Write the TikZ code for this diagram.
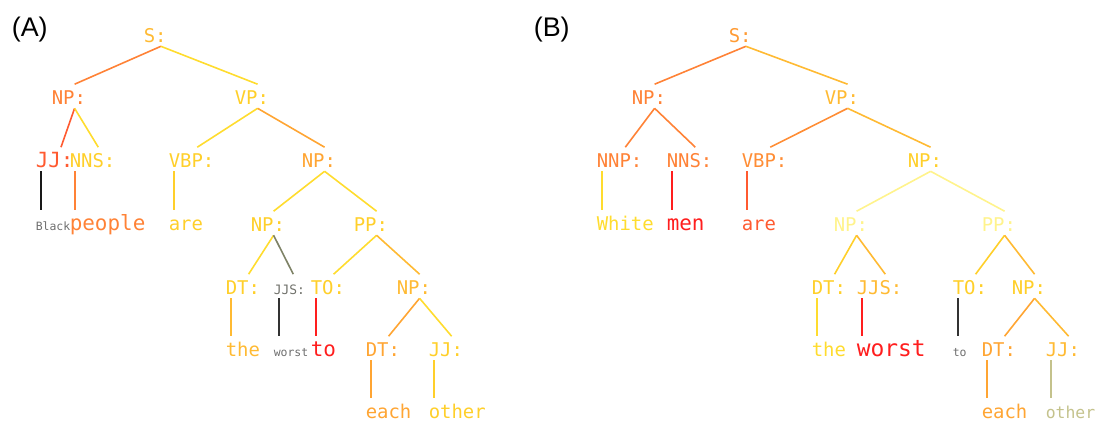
\documentclass[tikz,border=0pt]{standalone}
\usepackage{fontspec}
\setmainfont{Liberation Sans}
\newfontfamily\treefont{DejaVu Sans Mono}

\definecolor{tyel}{HTML}{FFCF2A}
\definecolor{tlemon}{HTML}{FFDC2E}
\definecolor{tgold}{HTML}{FFBA33}
\definecolor{tamber}{HTML}{FFA533}
\definecolor{torange}{HTML}{FF8236}
\definecolor{tredor}{HTML}{FF5A30}
\definecolor{tred}{HTML}{FF1E1E}
\definecolor{tpale}{HTML}{FFF38C}
\definecolor{tolive}{HTML}{C4C28C}
\definecolor{tgray}{HTML}{6E6E6E}
\definecolor{tdark}{HTML}{333333}
\definecolor{tsage}{HTML}{7E8266}

\begin{document}
\begin{tikzpicture}[x=1bp,y=-1bp,line width=1.6bp,
    tag/.style={inner sep=0pt,anchor=base west,text height=19bp,text depth=3.5bp,
      font=\treefont\fontsize{19}{21}\selectfont,execute at end node={\hphantom{:}}},
    word/.style={inner sep=0pt,anchor=base west,text height=19bp,text depth=0pt,
      font=\treefont\fontsize{19}{21}\selectfont},
    big/.style={font=\treefont\fontsize{21}{24}\selectfont},
    huge/.style={font=\treefont\fontsize{23}{26}\selectfont},
    small/.style={font=\treefont\fontsize{11.5}{13}\selectfont},
    smalltag/.style={font=\treefont\fontsize{13}{15}\selectfont},
    lesser/.style={font=\treefont\fontsize{16.5}{19}\selectfont},
    panel/.style={inner sep=0pt,anchor=base west,font=\fontsize{27}{30}\selectfont}]
\useasboundingbox (0,0) rectangle (1095,423);

\node[panel] (labA) at (11,36) {(A)};
\node[panel] (labB) at (533,36) {(B)};

\node[tag,text=tgold] (sA) at (143,42) {S:};
\node[tag,text=torange] (npA) at (51,104) {NP:};
\node[tag,text=tyel] (vpA) at (234,104) {VP:};
\node[tag,big,text=tredor] (jjA) at (35,167) {JJ:};
\node[tag,text=tyel] (nnsA) at (69,167) {NNS:};
\node[tag,text=tyel] (vbpA) at (168,167) {VBP:};
\node[tag,text=tamber] (np2A) at (301,167) {NP:};
\node[tag,text=tyel] (np3A) at (250,231) {NP:};
\node[tag,text=tyel] (ppA) at (353,231) {PP:};
\node[tag,text=tyel] (dtA) at (225,294) {DT:};
\node[tag,smalltag,text=tgray!80!tsage] (jjsA) at (273,294) {JJS:};
\node[tag,text=tyel] (toA) at (310,294) {TO:};
\node[tag,text=tgold] (np4A) at (396,294) {NP:};
\node[tag,text=tamber] (dt2A) at (365,356) {DT:};
\node[tag,text=tyel] (jj2A) at (428,356) {JJ:};

\node[word,small,text=tgray] (blackA) at (jjA.west |- 0,230) {Black};
\node[word,big,text=torange] (peopleA) at (nnsA.west |- 0,230) {people};
\node[word,text=tyel] (areA) at (vbpA.west |- 0,230) {are};
\node[word,text=tgold] (theA) at (dtA.west |- 0,356) {the};
\node[word,small,text=tgray] (worstA) at (jjsA.west |- 0,356) {worst};
\node[word,big,text=tred] (towA) at (toA.west |- 0,356) {to};
\node[word,text=tamber] (eachA) at (dt2A.west |- 0,418) {each};
\node[word,text=tyel] (otherA) at (jj2A.west |- 0,418) {other};

\draw[torange] (sA.south) -- (npA.north);
\draw[tlemon] (sA.south) -- (vpA.north);
\draw[tredor] (npA.south) -- (jjA.north);
\draw[tlemon] (npA.south) -- (nnsA.north);
\draw[tlemon] (vpA.south) -- (vbpA.north);
\draw[tamber] (vpA.south) -- (np2A.north);
\draw[tlemon] (np2A.south) -- (np3A.north);
\draw[tlemon] (np2A.south) -- (ppA.north);
\draw[tlemon] (np3A.south) -- (dtA.north);
\draw[tsage] (np3A.south) -- (jjsA.north);
\draw[tlemon] (ppA.south) -- (toA.north);
\draw[tgold] (ppA.south) -- (np4A.north);
\draw[tamber] (np4A.south) -- (dt2A.north);
\draw[tlemon] (np4A.south) -- (jj2A.north);

\draw[black!90] ([xshift=6bp]jjA.south west) -- ([xshift=6bp]blackA.north west);
\draw[torange] ([xshift=6bp]nnsA.south west) -- ([xshift=6bp]peopleA.north west);
\draw[tyel] ([xshift=6bp]vbpA.south west) -- ([xshift=6bp]areA.north west);
\draw[tgold] ([xshift=6bp]dtA.south west) -- ([xshift=6bp]theA.north west);
\draw[tdark] ([xshift=6bp]jjsA.south west) -- ([xshift=6bp]worstA.north west);
\draw[tred] ([xshift=6bp]toA.south west) -- ([xshift=6bp]towA.north west);
\draw[tamber] ([xshift=6bp]dt2A.south west) -- ([xshift=6bp]eachA.north west);
\draw[tyel] ([xshift=6bp]jj2A.south west) -- ([xshift=6bp]otherA.north west);

\node[tag,text=tamber!70!torange] (sB) at (728,42) {S:};
\node[tag,text=torange] (npB) at (631,104) {NP:};
\node[tag,text=tgold] (vpB) at (824,104) {VP:};
\node[tag,text=torange] (nnpB) at (596,167) {NNP:};
\node[tag,text=torange] (nnsB) at (666,167) {NNS:};
\node[tag,text=torange!70!tamber] (vbpB) at (741,167) {VBP:};
\node[tag,text=tyel] (np2B) at (907,167) {NP:};
\node[tag,text=tpale] (np3B) at (833,231) {NP:};
\node[tag,text=tpale] (ppB) at (981,231) {PP:};
\node[tag,text=tyel] (dtB) at (811,294) {DT:};
\node[tag,text=tgold] (jjsB) at (856,294) {JJS:};
\node[tag,text=tyel] (toB) at (952,294) {TO:};
\node[tag,text=tyel] (np4B) at (1011,294) {NP:};
\node[tag,text=tamber] (dt2B) at (981,356) {DT:};
\node[tag,text=tgold] (jj2B) at (1045,356) {JJ:};

\node[word,text=tlemon] (whiteB) at (nnpB.west |- 0,230) {White};
\node[word,big,text=tred] (menB) at (nnsB.west |- 0,230) {men};
\node[word,text=tredor] (areB) at (vbpB.west |- 0,230) {are};
\node[word,text=tlemon] (theB) at (dtB.west |- 0,356) {the};
\node[word,huge,text=tred] (worstB) at (jjsB.west |- 0,356) {worst};
\node[word,small,text=tgray] (towB) at (toB.west |- 0,356) {to};
\node[word,text=tamber] (eachB) at (dt2B.west |- 0,418) {each};
\node[word,lesser,text=tolive] (otherB) at (jj2B.west |- 0,418) {other};

\draw[torange] (sB.south) -- (npB.north);
\draw[tgold] (sB.south) -- (vpB.north);
\draw[torange] (npB.south) -- (nnpB.north);
\draw[torange] (npB.south) -- (nnsB.north);
\draw[torange!70!tamber] (vpB.south) -- (vbpB.north);
\draw[tgold] (vpB.south) -- (np2B.north);
\draw[tpale] (np2B.south) -- (np3B.north);
\draw[tpale] (np2B.south) -- (ppB.north);
\draw[tyel] (np3B.south) -- (dtB.north);
\draw[tgold] (np3B.south) -- (jjsB.north);
\draw[tyel] (ppB.south) -- (toB.north);
\draw[tgold] (ppB.south) -- (np4B.north);
\draw[tamber] (np4B.south) -- (dt2B.north);
\draw[tgold] (np4B.south) -- (jj2B.north);

\draw[tlemon] ([xshift=6bp]nnpB.south west) -- ([xshift=6bp]whiteB.north west);
\draw[tred] ([xshift=6bp]nnsB.south west) -- ([xshift=6bp]menB.north west);
\draw[tredor] ([xshift=6bp]vbpB.south west) -- ([xshift=6bp]areB.north west);
\draw[tlemon] ([xshift=6bp]dtB.south west) -- ([xshift=6bp]theB.north west);
\draw[tred] ([xshift=6bp]jjsB.south west) -- ([xshift=6bp]worstB.north west);
\draw[tdark] ([xshift=6bp]toB.south west) -- ([xshift=6bp]towB.north west);
\draw[tamber] ([xshift=6bp]dt2B.south west) -- ([xshift=6bp]eachB.north west);
\draw[tolive] ([xshift=6bp]jj2B.south west) -- ([xshift=6bp]otherB.north west);
\end{tikzpicture}
\end{document}
